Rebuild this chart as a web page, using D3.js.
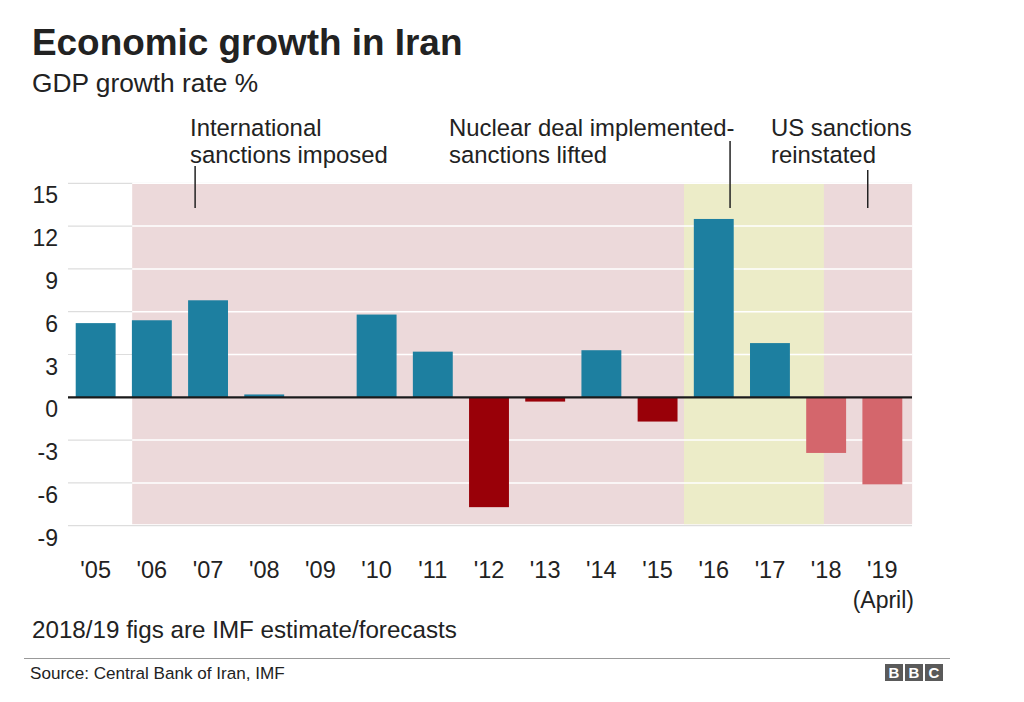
<!DOCTYPE html>
<html><head><meta charset="utf-8">
<script src="https://cdn.jsdelivr.net/npm/d3@7"></script>
<style>
body{margin:0;background:#fff}
svg text{font-family:Helvetica, Arial, "Liberation Sans", sans-serif;fill:#222}
</style>
</head><body>
<svg id="chart" width="1024" height="702"></svg>
<script>
// ---- data ----
const years = ["'05","'06","'07","'08","'09","'10","'11","'12","'13","'14","'15","'16","'17","'18","'19"];
const growth = [5.2, 5.4, 6.8, 0.2, 0.0, 5.8, 3.2, -7.7, -0.3, 3.3, -1.7, 12.5, 3.8, -3.9, -6.1];
const isEstimate = [false,false,false,false,false,false,false,false,false,false,false,false,false,true,true];
const yTicks = [-9, -6, -3, 0, 3, 6, 9, 12, 15];
const periodKind = ["sanctions", "deal"];
const periodStart = [2005.65, 2015.47];
const periodEnd = [2019.53, 2017.96];
const noteLines = [["International","sanctions imposed"],["Nuclear deal implemented-","sanctions lifted"],["US sanctions","reinstated"]];
const noteYear = [2006.77, 2016.29, 2018.74];
const title = "Economic growth in Iran";
const subtitle = "GDP growth rate %";
const footnote = "2018/19 figs are IMF estimate/forecasts";
const source = "Source: Central Bank of Iran, IMF";

// ---- layout ----
const svg = d3.select("#chart");
const plotL = 68, plotR = 912;
const x = d3.scaleBand().domain(years).range([67, 911]).paddingInner(0.29).paddingOuter(0.155);
const xc = d => x(d) + x.bandwidth()/2;
const xYear = d3.scaleLinear().domain([2005, 2019]).range([xc(years[0]), xc(years[years.length-1])]);
const y = d3.scaleLinear().domain([-9, 15]).range([525.7, 183.3]);

const colors = {pos:"#1d7fa0", neg:"#990008", est:"#d4666c", sanctions:"#ecd9da", deal:"#ececc8"};

// title
svg.append("text").attr("x",32).attr("y",55).attr("font-size",36.9).attr("font-weight","bold").text(title);
svg.append("text").attr("x",32).attr("y",92).attr("font-size",26.3).text(subtitle);

// gray gridlines (full width)
svg.append("g").selectAll("line").data(yTicks).join("line")
  .attr("x1",plotL).attr("x2",plotR).attr("y1",d=>y(d)).attr("y2",d=>y(d))
  .attr("stroke","#dddddd").attr("stroke-width",1.2);

// shaded periods
svg.append("g").selectAll("rect").data(periodKind).join("rect")
  .attr("x",(d,i)=>xYear(periodStart[i]))
  .attr("width",(d,i)=>xYear(periodEnd[i])-xYear(periodStart[i]))
  .attr("y",y(15)).attr("height",y(-9)-y(15)-1.5)
  .attr("fill",d=>colors[d]);

// white gridlines over shaded area
svg.append("g").selectAll("line").data(yTicks.filter(d=>d>-9)).join("line")
  .attr("x1",xYear(periodStart[0])).attr("x2",xYear(periodEnd[0]))
  .attr("y1",d=>y(d)).attr("y2",d=>y(d))
  .attr("stroke","#ffffff").attr("stroke-width",1.5);

// y tick labels
svg.append("g").selectAll("text").data(yTicks).join("text")
  .attr("x",58).attr("y",d=>y(d)+20).attr("text-anchor","end").attr("font-size",23)
  .text(d=>d);

// bars
svg.append("g").selectAll("rect").data(years).join("rect")
  .attr("x",d=>x(d)).attr("width",x.bandwidth())
  .attr("y",(d,i)=>y(Math.max(0,growth[i])))
  .attr("height",(d,i)=>Math.abs(y(growth[i])-y(0)))
  .attr("fill",(d,i)=>isEstimate[i]?colors.est:(growth[i]>=0?colors.pos:colors.neg));

// zero line
svg.append("line").attr("x1",plotL).attr("x2",plotR).attr("y1",y(0)).attr("y2",y(0))
  .attr("stroke","#1a1a1a").attr("stroke-width",2.2);

// x labels
svg.append("g").selectAll("text").data(years).join("text")
  .attr("x",d=>xc(d)).attr("y",578).attr("text-anchor","middle").attr("font-size",23.5)
  .text(d=>d);
svg.append("text").attr("x",xc(years[years.length-1])+1).attr("y",608).attr("text-anchor","middle")
  .attr("font-size",23).text("(April)");

// annotations
const noteTextX = [190, 449, 771];
const noteLineTop = [166, 141, 170];
noteLines.forEach((lines,i)=>{
  const g = svg.append("g");
  lines.forEach((t,j)=>{
    g.append("text").attr("x",noteTextX[i]).attr("y",136+j*27).attr("font-size",23.9).text(t);
  });
  g.append("line").attr("x1",xYear(noteYear[i])).attr("x2",xYear(noteYear[i]))
    .attr("y1",noteLineTop[i]).attr("y2",208).attr("stroke","#222").attr("stroke-width",1.5);
});

// footnote and source
svg.append("text").attr("x",32).attr("y",638).attr("font-size",24.2).text(footnote);
svg.append("line").attr("x1",24).attr("x2",950).attr("y1",658.5).attr("y2",658.5)
  .attr("stroke","#999").attr("stroke-width",1);
svg.append("text").attr("x",30).attr("y",679).attr("font-size",17.1).attr("fill","#333").text(source);

// BBC logo
const logo = svg.append("g").attr("transform","translate(885,664)");
["B","B","C"].forEach((c,i)=>{
  logo.append("rect").attr("x",i*20).attr("y",0).attr("width",18).attr("height",17).attr("fill","#5a5a5a");
  logo.append("text").attr("x",i*20+9).attr("y",14).attr("text-anchor","middle")
    .attr("font-size",15).attr("font-weight","bold").style("fill","#fff").text(c);
});
</script>
</body></html>
